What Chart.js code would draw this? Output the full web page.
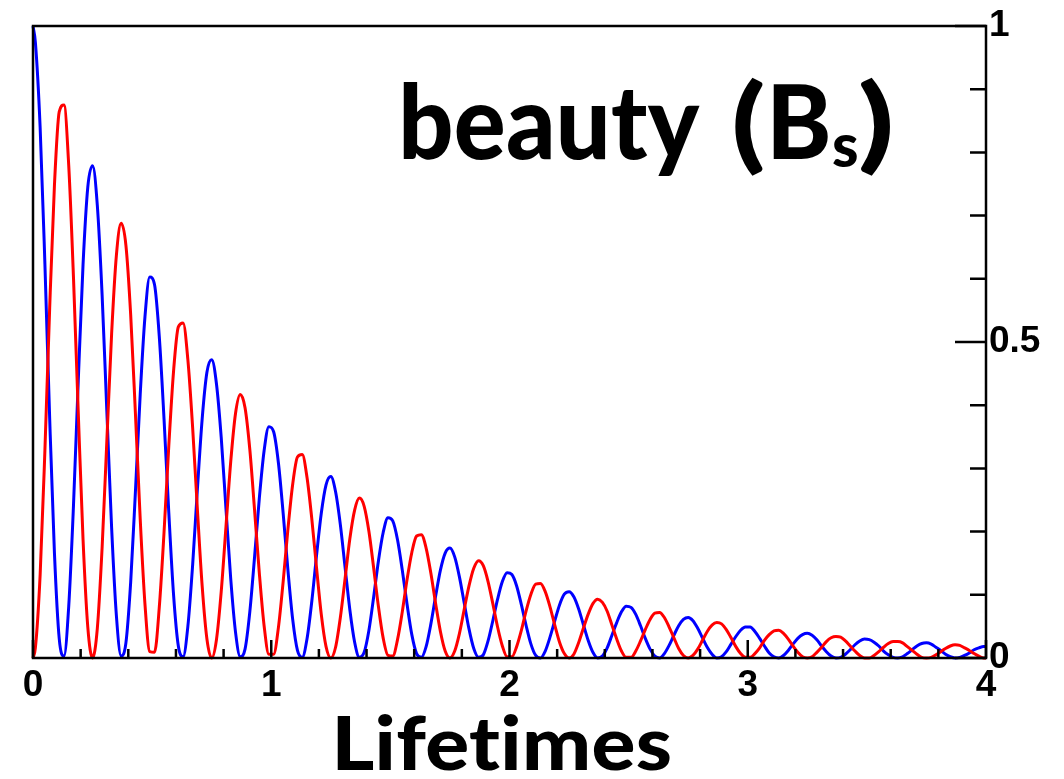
<!DOCTYPE html>
<html>
<head>
<meta charset="utf-8">
<script src="https://cdn.jsdelivr.net/npm/chart.js@4.4.1/dist/chart.umd.min.js"></script>
<style>
html,body{margin:0;padding:0;background:#fff;overflow:hidden}
#wrap{width:1064px;height:779px;position:relative}
canvas{display:block}
</style>
</head>
<body>
<div id="wrap"><canvas id="c" width="1064" height="779"></canvas></div>
<script>
// ---- data: histogram contents at bin centres (bins of 0.02 lifetimes) ----
const BIN_WIDTH = 0.02;
const X_MIN = 0;
const X_MAX = 4;
const Y_MIN = 0;
const Y_MAX = 1;
const xTickStep = 1;
const yTickStep = 0.5;
const xMinorStep = 0.2;
const yMinorStep = 0.1;

// values at the two edges t = 0 and t = 4
const blueEdges = [1.000, 0.018];
const redEdges = [0.000, 0.000];

// blue: unmixed
const blueValues = [
  0.974,0.839,0.623,0.379,0.166,0.031,0.003,0.082,0.242,0.439,0.622,0.745,0.779,0.716,0.575,0.390,0.206,0.067,0.003,0.024,0.120,0.264,0.417,0.540,0.603,
  0.591,0.509,0.378,0.230,0.100,0.019,0.002,0.050,0.147,0.267,0.378,0.452,0.472,0.434,0.349,0.236,0.125,0.041,0.002,0.014,0.073,0.160,0.253,0.328,0.366,
  0.358,0.309,0.229,0.139,0.061,0.012,0.001,0.030,0.089,0.162,0.229,0.274,0.287,0.263,0.211,0.143,0.076,0.025,0.001,0.009,0.044,0.097,0.154,0.199,0.222,
  0.217,0.187,0.139,0.085,0.037,0.007,0.001,0.018,0.054,0.098,0.139,0.166,0.174,0.160,0.128,0.087,0.046,0.015,0.001,0.005,0.027,0.059,0.093,0.121,0.135,
  0.132,0.114,0.084,0.051,0.022,0.004,0.000,0.011,0.033,0.059,0.084,0.101,0.105,0.097,0.078,0.053,0.028,0.009,0.000,0.003,0.016,0.036,0.056,0.073,0.082,
  0.080,0.069,0.051,0.031,0.014,0.003,0.000,0.007,0.020,0.036,0.051,0.061,0.064,0.059,0.047,0.032,0.017,0.006,0.000,0.002,0.010,0.022,0.034,0.044,0.049,
  0.049,0.042,0.031,0.019,0.008,0.002,0.000,0.004,0.012,0.022,0.031,0.037,0.039,0.036,0.029,0.019,0.010,0.003,0.000,0.001,0.006,0.013,0.021,0.027,0.030,
  0.029,0.025,0.019,0.011,0.005,0.001,0.000,0.002,0.007,0.013,0.019,0.023,0.024,0.022,0.017,0.012,0.006,0.002,0.000,0.001,0.004,0.008,0.013,0.016,0.018
];
// red: mixed
const redValues = [
  0.016,0.132,0.329,0.554,0.748,0.864,0.875,0.779,0.601,0.388,0.188,0.049,0.000,0.047,0.174,0.344,0.513,0.637,0.688,0.653,0.543,0.386,0.220,0.085,0.010,
  0.009,0.080,0.199,0.336,0.454,0.524,0.530,0.472,0.365,0.235,0.114,0.030,0.000,0.029,0.105,0.208,0.311,0.387,0.417,0.396,0.330,0.234,0.134,0.051,0.006,
  0.006,0.048,0.121,0.204,0.275,0.318,0.322,0.286,0.221,0.143,0.069,0.018,0.000,0.017,0.064,0.126,0.189,0.234,0.253,0.240,0.200,0.142,0.081,0.031,0.004,
  0.003,0.029,0.073,0.124,0.167,0.193,0.195,0.174,0.134,0.086,0.042,0.011,0.000,0.011,0.039,0.077,0.114,0.142,0.154,0.146,0.121,0.086,0.049,0.019,0.002,
  0.002,0.018,0.044,0.075,0.101,0.117,0.118,0.105,0.081,0.052,0.025,0.007,0.000,0.006,0.024,0.047,0.069,0.086,0.093,0.088,0.074,0.052,0.030,0.011,0.001,
  0.001,0.011,0.027,0.045,0.061,0.071,0.072,0.064,0.049,0.032,0.015,0.004,0.000,0.004,0.014,0.028,0.042,0.052,0.056,0.054,0.045,0.032,0.018,0.007,0.001,
  0.001,0.007,0.016,0.028,0.037,0.043,0.044,0.039,0.030,0.019,0.009,0.002,0.000,0.002,0.009,0.017,0.026,0.032,0.034,0.033,0.027,0.019,0.011,0.004,0.000,
  0.000,0.004,0.010,0.017,0.023,0.026,0.026,0.024,0.018,0.012,0.006,0.001,0.000,0.001,0.005,0.010,0.015,0.019,0.021,0.020,0.016,0.012,0.007,0.003,0.000
];

const titleParts = ['beauty', '(', 'B', 's', ')'];
const xAxisTitle = 'Lifetimes';

// ---- points: edge value, bin centres, edge value ----
function curvePoints(values, edges) {
  const pts = [{x: X_MIN, y: edges[0]}];
  values.forEach((v, i) => pts.push({x: X_MIN + (i + 0.5) * BIN_WIDTH, y: v}));
  pts.push({x: X_MAX, y: edges[1]});
  return pts;
}

const TICK_FONT = {family: '"Liberation Sans", Arial, Helvetica, sans-serif', size: 37, weight: 'bold'};
const TITLE_FAMILY = 'Lato, "Open Sans", sans-serif';

// draw text so that its ink box spans [left, right] (horizontal stretch), baseline at `base`
function inkText(ctx, text, left, base, right) {
  ctx.letterSpacing = text.length > 1 ? '0.3px' : '0px';
  const m = ctx.measureText(text);
  const ink = m.actualBoundingBoxLeft + m.actualBoundingBoxRight;
  const sx = right !== undefined ? (right - left) / ink : 1;
  ctx.save();
  ctx.translate(left, base);
  ctx.scale(sx, 1);
  ctx.fillText(text, m.actualBoundingBoxLeft, 0);
  ctx.restore();
  ctx.letterSpacing = '0px';
}

const framePlugin = {
  id: 'rootFrame',
  afterDatasetsDraw(chart) {
    const {ctx, chartArea: ca} = chart;
    const xs = chart.scales.x, ys = chart.scales.y;
    ctx.save();
    ctx.strokeStyle = '#000';
    ctx.lineWidth = 2.5;
    ctx.strokeRect(ca.left, ca.top, ca.right - ca.left, ca.bottom - ca.top);
    ctx.beginPath();
    for (let k = 0; X_MIN + k * xMinorStep <= X_MAX + 1e-9; k++) {
      const v = X_MIN + k * xMinorStep;
      const major = Math.abs(v / xTickStep - Math.round(v / xTickStep)) < 1e-6;
      const px = xs.getPixelForValue(v);
      ctx.moveTo(px, ca.bottom);
      ctx.lineTo(px, ca.bottom - (major ? 18 : 9));
    }
    for (let k = 0; Y_MIN + k * yMinorStep <= Y_MAX + 1e-9; k++) {
      const v = Y_MIN + k * yMinorStep;
      const major = Math.abs(v / yTickStep - Math.round(v / yTickStep)) < 1e-6;
      const py = ys.getPixelForValue(v);
      ctx.moveTo(ca.right, py);
      ctx.lineTo(ca.right - (major ? 31 : 16), py);
    }
    ctx.stroke();
    ctx.restore();
  },
  afterDraw(chart) {
    const {ctx} = chart;
    ctx.save();
    ctx.fillStyle = '#000';
    ctx.textBaseline = 'alphabetic';
    ctx.textAlign = 'left';
    // "beauty (Bs)"
    ctx.font = '900 102px ' + TITLE_FAMILY;
    inkText(ctx, titleParts[0], 403, 159, 700);
    inkText(ctx, titleParts[1], 735, 159, 763);
    inkText(ctx, titleParts[2], 773, 159, 828);
    ctx.font = '900 60px ' + TITLE_FAMILY;
    inkText(ctx, titleParts[3], 833, 167, 857);
    ctx.font = '900 102px ' + TITLE_FAMILY;
    inkText(ctx, titleParts[4], 860, 159, 890);
    // x-axis title
    ctx.font = '900 74px ' + TITLE_FAMILY;
    inkText(ctx, xAxisTitle, 337, 770, 670);
    ctx.restore();
  }
};

new Chart(document.getElementById('c'), {
  type: 'line',
  data: {
    datasets: [
      {
        label: 'mixed',
        data: curvePoints(redValues, redEdges),
        borderColor: '#ff0000',
        borderWidth: 3,
        pointRadius: 0,
        cubicInterpolationMode: 'monotone',
        fill: false,
        order: 0,
        clip: false
      },
      {
        label: 'unmixed',
        data: curvePoints(blueValues, blueEdges),
        borderColor: '#0000ff',
        borderWidth: 3,
        pointRadius: 0,
        cubicInterpolationMode: 'monotone',
        fill: false,
        order: 1,
        clip: false
      }
    ]
  },
  options: {
    responsive: false,
    devicePixelRatio: 1,
    animation: false,
    layout: {padding: {left: 33, top: 26, right: 0, bottom: 0}},
    plugins: {legend: {display: false}, tooltip: {enabled: false}, title: {display: false}},
    scales: {
      x: {
        type: 'linear',
        position: 'bottom',
        min: X_MIN,
        max: X_MAX,
        grid: {display: false, drawTicks: false},
        border: {display: false},
        ticks: {stepSize: xTickStep, color: '#000', font: TICK_FONT, padding: 6, maxRotation: 0,
                callback: v => String(v)},
        afterFit(scale) { scale.height = 121; }
      },
      y: {
        type: 'linear',
        position: 'right',
        min: Y_MIN,
        max: Y_MAX,
        grid: {display: false, drawTicks: false},
        border: {display: false},
        ticks: {stepSize: yTickStep, color: '#000', font: TICK_FONT, padding: 3,
                callback: v => String(Number(v))},
        afterFit(scale) { scale.width = 78; }
      }
    }
  },
  plugins: [framePlugin]
});
</script>
</body>
</html>
